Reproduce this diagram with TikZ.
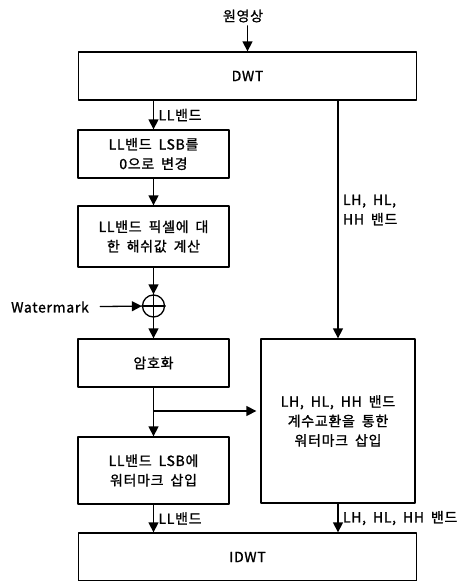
\documentclass[tikz,border=0pt]{standalone}
\usepackage{fontspec}
\setmainfont{Noto Sans CJK KR}[LetterSpace=5, WordSpace=1.8, FakeBold=1.2]
\usetikzlibrary{arrows.meta}

\begin{document}
\begin{tikzpicture}[x=1pt, y=-1pt, line cap=round, line join=round,
    font=\fontsize{14}{19.5}\selectfont,
    box/.style={draw, line width=1.3pt, align=center, inner sep=0pt, minimum width=151pt},
    wide/.style={box, minimum width=338pt, minimum height=48pt},
    flow/.style={-{Triangle[length=10pt,width=10pt]}, line width=1.3pt}]
  \useasboundingbox (0,0) rectangle (475,581);

  \node (src) at (243,16) {원영상};
  \node[wide] (dwt) at (247.5,76) {DWT};

  \node[box, minimum height=48pt] (zero) at (153.5,154) {LL밴드 LSB를\\0으로 변경};
  \node[box, minimum height=61pt] (hash) at (153.5,236.5) {LL밴드 픽셀에 대\\한 해쉬값 계산};
  \node[circle, draw, line width=1.3pt, minimum size=22pt, inner sep=0pt] (plus) at (153.5,306) {};
  \node (wm) at (50,307) {Watermark};
  \node[box, minimum height=48pt] (enc) at (153.5,363) {암호화};
  \node[box, minimum height=67pt] (lsb) at (153.5,470.5) {LL밴드 LSB에\\워터마크 삽입};
  \node[box, minimum width=154pt, minimum height=164pt] (coef) at (338,421)
    {LH, HL, HH 밴드\\계수교환을 통한\\워터마크 삽입};
  \node[wide] (idwt) at (247.5,557) {IDWT};

  \coordinate (split) at (153.5,411);

  \draw[flow] (src.south -| dwt.north) -- (dwt.north);
  \draw[flow] (dwt.south -| zero.north) -- (zero.north) node[midway, right, xshift=1pt] {LL밴드};
  \draw[flow] (zero) -- (hash);
  \draw[flow] (hash) -- (plus);
  \draw[line width=1.3pt] (plus.north) -- (plus.south) (plus.west) -- (plus.east);
  \draw[flow, shorten <=8pt] (wm) -- (plus);
  \draw[flow] (plus) -- (enc);
  \draw[flow] (enc) -- (lsb);
  \draw[flow, shorten >=4pt] (split) -- (split -| coef.west);
  \draw[flow] (dwt.south -| coef.north) -- (coef.north)
    node[pos=0.46, right, align=left, xshift=1pt] {LH, HL,\\HH 밴드};
  \draw[flow] (lsb) -- (lsb.south |- idwt.north) node[midway, right, xshift=1pt] {LL밴드};
  \draw[flow] (coef) -- (coef.south |- idwt.north) node[midway, right, xshift=1pt] {LH, HL, HH 밴드};
\end{tikzpicture}
\end{document}
